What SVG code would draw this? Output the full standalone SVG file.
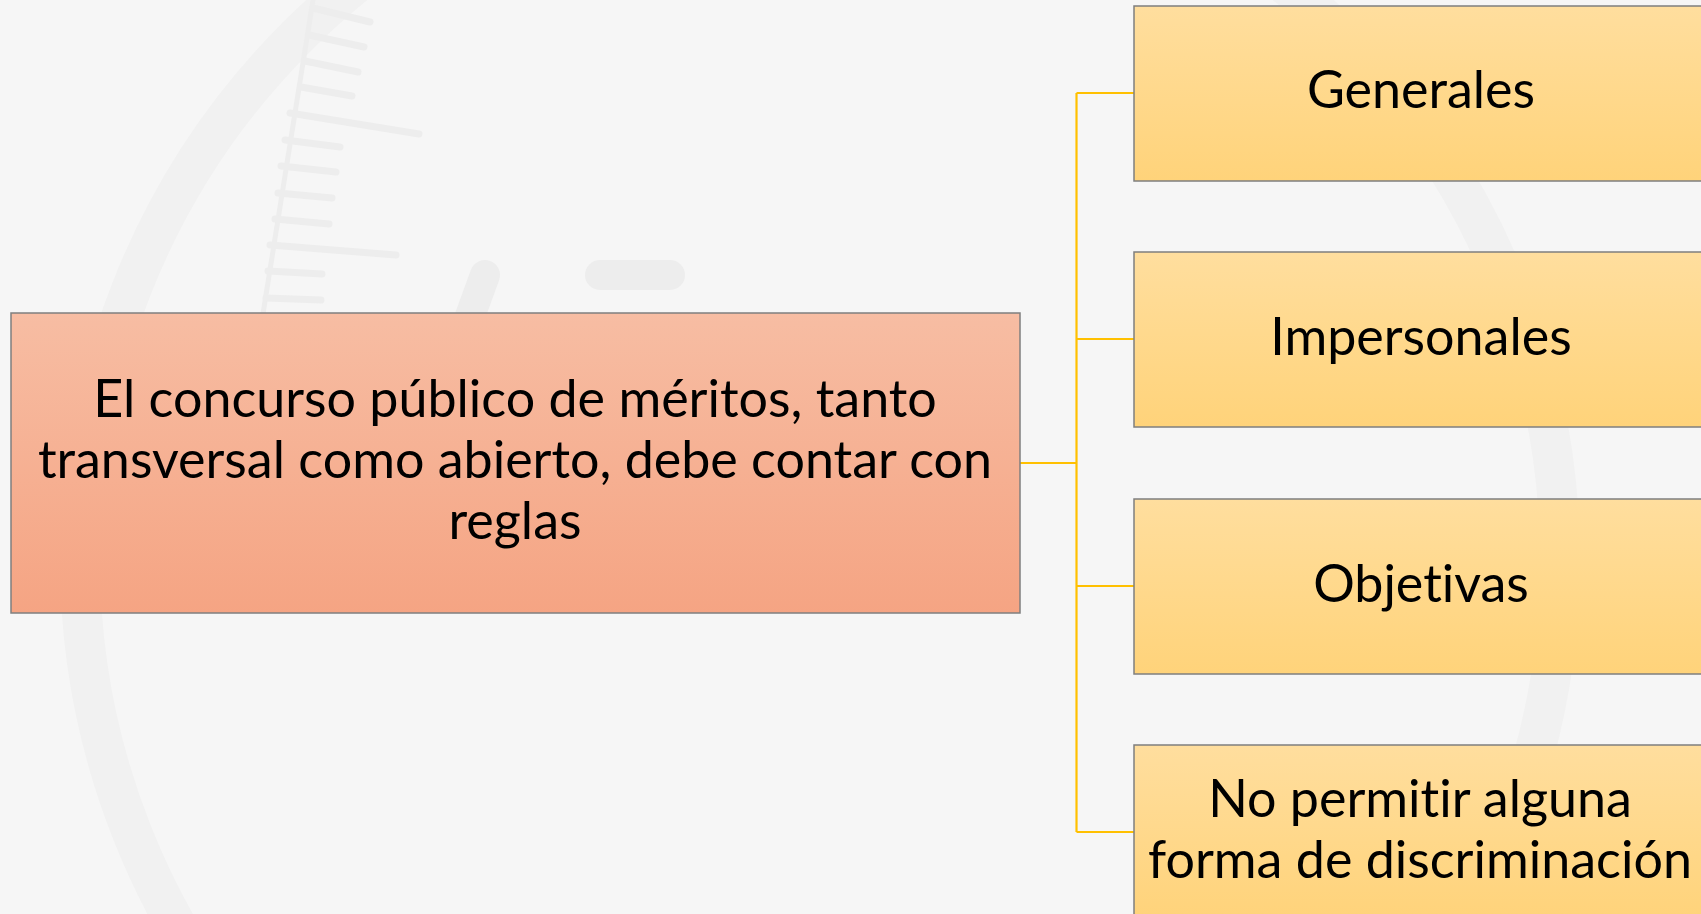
<svg xmlns="http://www.w3.org/2000/svg" width="1701" height="914" viewBox="0 0 1701 914">
<defs>
<linearGradient id="gOrange" x1="0" y1="0" x2="0" y2="1">
<stop offset="0" stop-color="#F7BDA3"/>
<stop offset="1" stop-color="#F5A483"/>
</linearGradient>
<linearGradient id="gYellow" x1="0" y1="0" x2="0" y2="1">
<stop offset="0" stop-color="#FFDE9E"/>
<stop offset="1" stop-color="#FFD37A"/>
</linearGradient>
<style>
.bg-stroke{fill:none;stroke:#ededed;stroke-linecap:round}
.main{fill:url(#gOrange);stroke:#7f7f7f;stroke-width:1.5}
.leaf{fill:url(#gYellow);stroke:#7f7f7f;stroke-width:1.5}
.conn{fill:none;stroke:#FFC000;stroke-width:2.2}
.t{font-family:Lato,"Open Sans","Liberation Sans",sans-serif;font-size:52px;fill:#000;text-anchor:middle;font-variant-ligatures:none}
</style>
</defs>
<rect width="1701" height="914" fill="#f6f6f6"/>
<g id="background">
<circle cx="820" cy="560" r="740" fill="none" stroke="#f1f1f1" stroke-width="40"/>
<path d="M313 0 L262 320" class="bg-stroke" stroke-width="5"/>
<g class="bg-stroke" stroke-width="7">
<line x1="313" y1="8" x2="370" y2="22"/>
<line x1="309" y1="35" x2="364" y2="47"/>
<line x1="305" y1="61" x2="358" y2="72"/>
<line x1="301" y1="87" x2="352" y2="96"/>
<line x1="290" y1="113" x2="419" y2="134"/>
<line x1="285" y1="140" x2="340" y2="147"/>
<line x1="281" y1="166" x2="336" y2="172"/>
<line x1="278" y1="193" x2="332" y2="198"/>
<line x1="275" y1="219" x2="329" y2="224"/>
<line x1="270" y1="245" x2="396" y2="255"/>
<line x1="268" y1="271" x2="322" y2="274"/>
<line x1="266" y1="298" x2="321" y2="300"/>
</g>
<path d="M485 275 L465 330" class="bg-stroke" stroke-width="30"/>
<path d="M600 275 L670 275" class="bg-stroke" stroke-width="30"/>
</g>
<g id="connectors">
<path class="conn" d="M1020 463 H1076.5 M1076.5 93 V832 M1076.5 93 H1134 M1076.5 339 H1134 M1076.5 586 H1134 M1076.5 832 H1134"/>
</g>
<g id="node-main">
<rect class="main" x="11" y="313" width="1009" height="300"/>
<text class="t" x="515" y="417">El concurso público de méritos, tanto</text>
<text class="t" x="515" y="478">transversal como abierto, debe contar con</text>
<text class="t" x="515" y="539">reglas</text>
</g>
<g id="node-generales">
<rect class="leaf" x="1134" y="6" width="575" height="175"/>
<text class="t" x="1421" y="108">Generales</text>
</g>
<g id="node-impersonales">
<rect class="leaf" x="1134" y="252" width="575" height="175"/>
<text class="t" x="1421" y="355">Impersonales</text>
</g>
<g id="node-objetivas">
<rect class="leaf" x="1134" y="499" width="575" height="175"/>
<text class="t" x="1421" y="602">Objetivas</text>
</g>
<g id="node-discriminacion">
<rect class="leaf" x="1134" y="745" width="575" height="175"/>
<text class="t" x="1420" y="817">No permitir alguna</text>
<text class="t" x="1420" y="878">forma de discriminación</text>
</g>
</svg>
